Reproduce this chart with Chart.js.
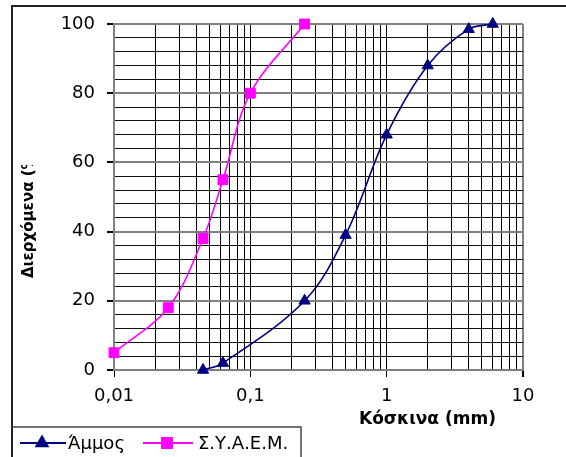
<!DOCTYPE html>
<html>
<head>
<meta charset="utf-8">
<script src="https://cdn.jsdelivr.net/npm/chart.js@4/dist/chart.umd.min.js"></script>
<style>
    body { margin: 0; background: #fff; }
    #wrap { width: 566px; height: 457px; }
</style>
</head>
<body>
<div id="wrap"><canvas id="grading-chart" width="566" height="457"></canvas></div>
<script>
// Sieve sizes (mm) and percent passing
const sandSizes = [0.045, 0.063, 0.25, 0.5, 1, 2, 4, 6];
const sandPassing = [0, 2, 20, 39, 68, 88, 98.5, 100];
const specSizes = [0.01, 0.025, 0.045, 0.063, 0.1, 0.25];
const specPassing = [5, 18, 38, 55, 80, 100];
const seriesNames = ['Άμμος', 'Σ.Υ.Α.Ε.Μ.'];
const xDecades = [0.01, 0.1, 1, 10];
const xTickLabels = ['0,01', '0,1', '1', '10'];
const yLabelStep = 20;

const NAVY = '#000080';
const MAGENTA = '#ff00ff';
const FONT = "'DejaVu Sans', sans-serif";

function toPoints(xs, ys) {
    return xs.map((x, i) => ({ x: x, y: ys[i] }));
}

function decadeIndex(v) {
    return xDecades.findIndex(d => Math.abs(d - v) < d * 1e-6);
}

// Log grid: 1..9 in every decade, then the last decade
function logTicks(scale) {
    const ticks = [];
    for (let i = 0; i < xDecades.length - 1; i++) {
        for (let m = 1; m <= 9; m++) {
            ticks.push({ value: Number((xDecades[i] * m).toPrecision(6)), major: m === 1 });
        }
    }
    ticks.push({ value: xDecades[xDecades.length - 1], major: true });
    scale.ticks = ticks;
}

// Frame, axis titles and the legend box under the plot
const decorPlugin = {
    id: 'decor',
    afterDraw(chart) {
        const ctx = chart.ctx;
        ctx.save();

        // outer frame (top and left edges)
        ctx.strokeStyle = '#222';
        ctx.lineWidth = 2;
        ctx.beginPath();
        ctx.moveTo(566, 6);
        ctx.lineTo(12, 6);
        ctx.lineTo(12, 457);
        ctx.stroke();

        // y title, clipped like the original
        ctx.save();
        ctx.beginPath();
        ctx.rect(0, 165, 60, 200);
        ctx.clip();
        ctx.translate(29, 278);
        ctx.rotate(-Math.PI / 2);
        ctx.fillStyle = '#000';
        ctx.font = 'bold 15px ' + FONT;
        ctx.textAlign = 'left';
        ctx.textBaseline = 'middle';
        ctx.fillText('Διερχόμενα (%)', 0, 0);
        ctx.restore();

        // x title
        ctx.fillStyle = '#000';
        ctx.font = 'bold 17px ' + FONT;
        ctx.textAlign = 'left';
        ctx.textBaseline = 'middle';
        ctx.fillText('Κόσκινα (mm)', 359, 420);

        // legend box
        ctx.strokeStyle = '#444';
        ctx.lineWidth = 1.5;
        ctx.beginPath();
        ctx.moveTo(12, 427);
        ctx.lineTo(301, 427);
        ctx.lineTo(301, 457);
        ctx.stroke();

        const items = [
            { x0: 20, x1: 66, mx: 42, color: NAVY, style: 'triangle', r: 6.5, tx: 68 },
            { x0: 143, x1: 193, mx: 167, color: MAGENTA, style: 'rect', r: 7, tx: 198 }
        ];
        const ly = 443;
        items.forEach((it, i) => {
            ctx.strokeStyle = it.color;
            ctx.fillStyle = it.color;
            ctx.lineWidth = 2;
            ctx.beginPath();
            ctx.moveTo(it.x0, ly);
            ctx.lineTo(it.x1, ly);
            ctx.stroke();
            Chart.helpers.drawPoint(ctx, { pointStyle: it.style, radius: it.r, borderWidth: 1 }, it.mx, ly);
            ctx.fillStyle = '#000';
            ctx.font = '18px ' + FONT;
            ctx.textAlign = 'left';
            ctx.textBaseline = 'middle';
            ctx.fillText(seriesNames[i], it.tx, ly + 1);
        });

        ctx.restore();
    }
};

new Chart(document.getElementById('grading-chart').getContext('2d'), {
    type: 'line',
    data: {
        datasets: [
            {
                label: seriesNames[0],
                data: toPoints(sandSizes, sandPassing),
                borderColor: NAVY,
                backgroundColor: NAVY,
                borderWidth: 1.6,
                pointStyle: 'triangle',
                pointRadius: 6.5,
                pointBorderWidth: 1,
                tension: 0.35,
                clip: false
            },
            {
                label: seriesNames[1],
                data: toPoints(specSizes, specPassing),
                borderColor: MAGENTA,
                backgroundColor: MAGENTA,
                borderWidth: 1.6,
                pointStyle: 'rect',
                pointRadius: 7,
                pointBorderWidth: 1,
                tension: 0.35,
                clip: false
            }
        ]
    },
    options: {
        responsive: false,
        animation: false,
        layout: { padding: { top: 24, right: 43, left: 0, bottom: 0 } },
        plugins: {
            legend: { display: false },
            tooltip: { enabled: false }
        },
        scales: {
            x: {
                type: 'logarithmic',
                min: 0.01,
                max: 10,
                afterBuildTicks: logTicks,
                afterFit: s => { s.height = 87; },
                border: { color: '#808080', width: 2 },
                grid: {
                    color: c => (c.tick && c.tick.value === 10) ? '#808080' : '#000',
                    lineWidth: c => (c.tick && c.tick.value === 10) ? 2 : 1,
                    tickColor: c => (c.tick && decadeIndex(c.tick.value) >= 0) ? '#000' : 'rgba(0,0,0,0)',
                    tickLength: 7
                },
                ticks: {
                    autoSkip: false,
                    maxRotation: 0,
                    padding: 9,
                    color: '#000',
                    font: { family: FONT, size: 18 },
                    callback: v => {
                        const i = decadeIndex(v);
                        return i >= 0 ? xTickLabels[i] : '';
                    }
                }
            },
            y: {
                min: 0,
                max: 100,
                afterFit: s => { s.width = 114; },
                border: { color: '#808080', width: 2 },
                grid: {
                    color: c => (c.tick.value % yLabelStep === 0) ? '#808080' : '#111',
                    lineWidth: c => (c.tick.value % yLabelStep === 0) ? 2 : 1,
                    tickColor: c => (c.tick.value % yLabelStep === 0) ? '#000' : 'rgba(0,0,0,0)',
                    tickLength: 7
                },
                ticks: {
                    stepSize: 4,
                    autoSkip: false,
                    padding: 12,
                    color: '#000',
                    font: { family: FONT, size: 18 },
                    callback: v => (v % yLabelStep === 0) ? String(v) : ''
                }
            }
        }
    },
    plugins: [decorPlugin]
});
</script>
</body>
</html>
